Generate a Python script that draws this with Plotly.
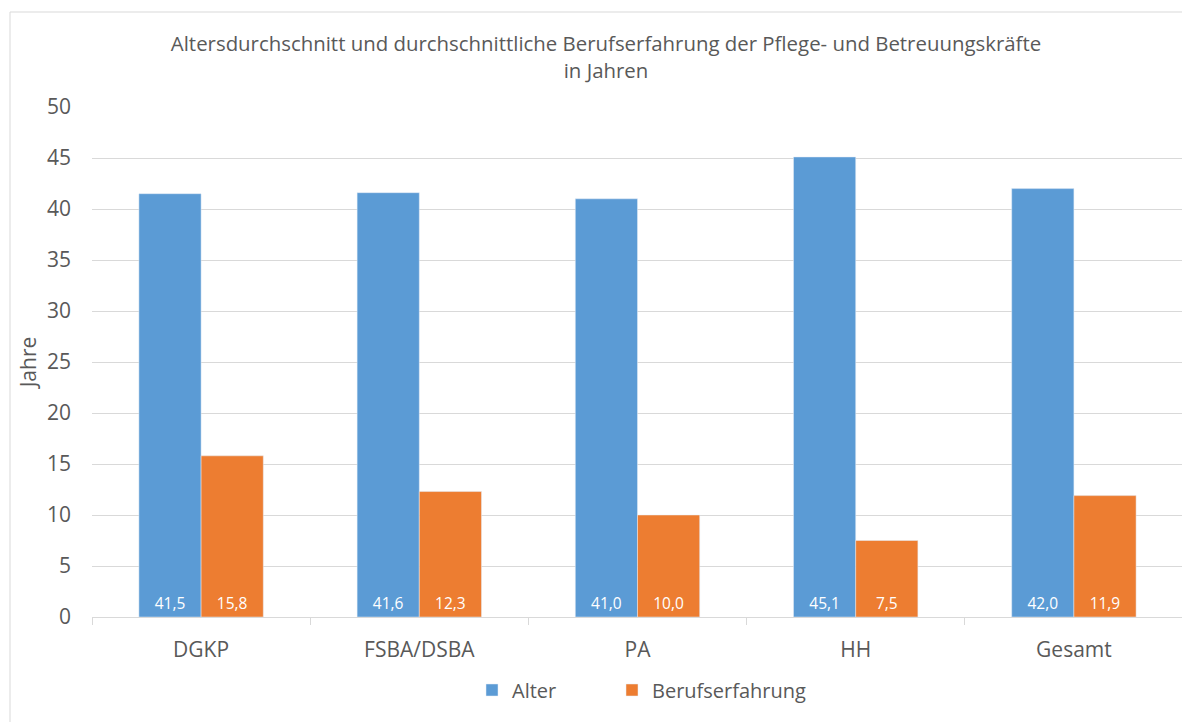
import plotly.graph_objects as go

categories = ["DGKP", "FSBA/DSBA", "PA", "HH", "Gesamt"]
alter = [41.5, 41.6, 41.0, 45.1, 42.0]
berufserfahrung = [15.8, 12.3, 10.0, 7.5, 11.9]
title_text = "Altersdurchschnitt und durchschnittliche Berufserfahrung der Pflege- und Betreuungskräfte<br>in Jahren"

def fmt(v):
    return f"{v:.1f}".replace(".", ",")

FONT = "Open Sans, Liberation Sans, DejaVu Sans, sans-serif"
GRAY = "#595959"

# page has an 8px body margin; figure is placed at (8, 8)
OFF = 8
W, H = 1190 - OFF, 722 - OFF
L, R, T, B = 92 - OFF, 1190 - 1183, 107 - OFF, 722 - 617
pw, ph = W - L - R, H - T - B

def px_x(x):  # page x -> paper
    return (x - OFF - L) / pw

def px_y(y):  # page y -> paper
    return (H - B - (y - OFF)) / ph

fig = go.Figure()
fig.add_trace(go.Bar(
    name="Alter", x=categories, y=alter, marker_color="#5B9BD5",
    text=[fmt(v) for v in alter], textposition="inside", insidetextanchor="start",
    textfont=dict(color="white", size=15.5, family=FONT), textangle=0,
    legend="legend",
))
fig.add_trace(go.Bar(
    name="Berufserfahrung", x=categories, y=berufserfahrung, marker_color="#ED7D31",
    text=[fmt(v) for v in berufserfahrung], textposition="inside", insidetextanchor="start",
    textfont=dict(color="white", size=15.5, family=FONT), textangle=0,
    legend="legend2",
))

leg_common = dict(orientation="h", xanchor="left", yanchor="middle",
                  font=dict(size=20, color=GRAY, family=FONT), itemwidth=30,
                  bgcolor="rgba(0,0,0,0)")

fig.update_layout(
    width=W, height=H,
    margin=dict(l=L, r=R, t=T, b=B),
    paper_bgcolor="white", plot_bgcolor="white",
    font=dict(family=FONT, color=GRAY),
    barmode="group", bargap=0.43, bargroupgap=0,
    title=dict(text=title_text, xref="container", x=(606 - OFF) / W, xanchor="center",
               yref="container", y=1 - (51 - OFF) / H, yanchor="middle",
               font=dict(size=20.4, color=GRAY, family=FONT)),
    legend=dict(x=px_x(472), y=px_y(690), **leg_common),
    legend2=dict(x=px_x(612), y=px_y(690), **leg_common),
    showlegend=True,
    uniformtext=dict(mode=False),
)
fig.update_yaxes(
    range=[0, 50], dtick=5, showgrid=True, gridcolor="#d9d9d9", gridwidth=1,
    zeroline=False, showline=False, ticks="", tickfont=dict(size=21, color=GRAY),
    ticklabelstandoff=20,
    title=dict(text="Jahre", font=dict(size=21, color=GRAY), standoff=4),
)
fig.update_xaxes(
    showline=True, linecolor="#d9d9d9", linewidth=1, ticks="outside", tickcolor="#d9d9d9",
    ticklen=7, tickson="boundaries", tickfont=dict(size=21, color=GRAY), showgrid=False,
    ticklabelstandoff=14,
)
fig.add_shape(type="rect", xref="paper", yref="paper",
              x0=px_x(10), x1=px_x(1200), y0=px_y(740), y1=px_y(12),
              line=dict(color="#d9d9d9", width=1), fillcolor="rgba(0,0,0,0)", layer="below")

fig.write_html("out.html")
